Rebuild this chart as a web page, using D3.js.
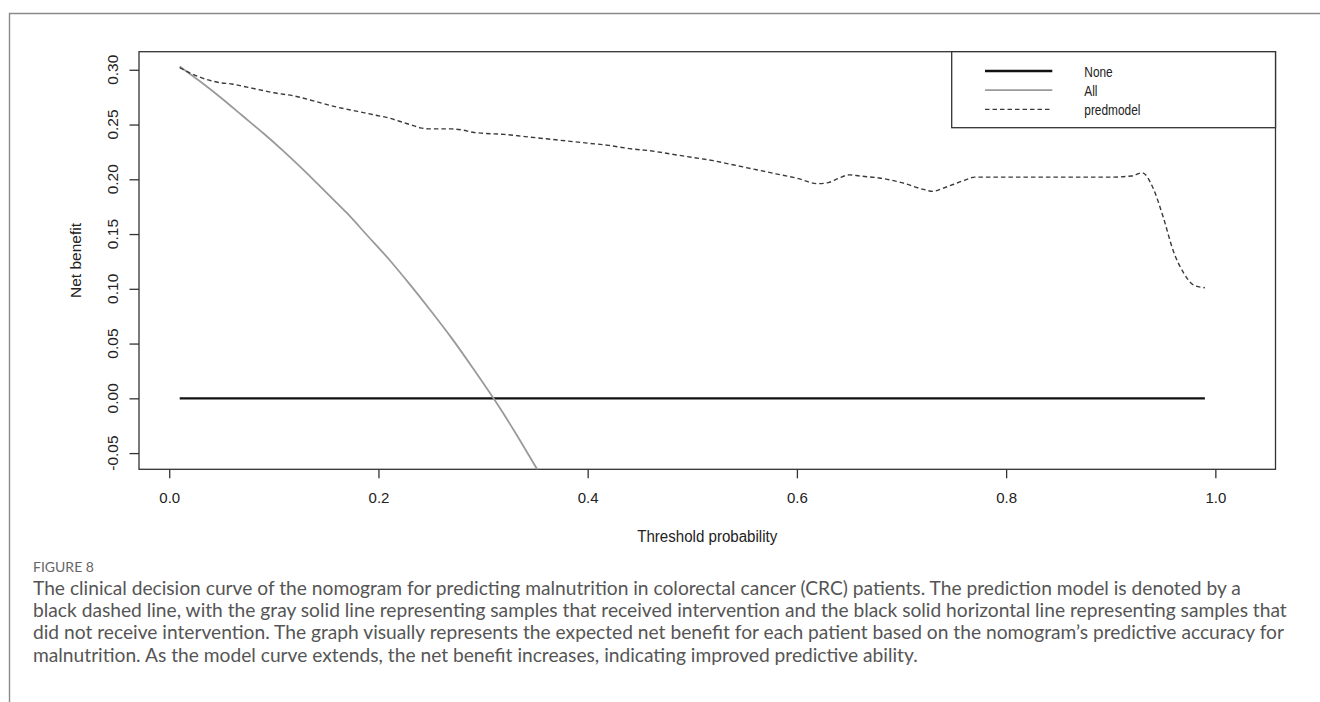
<!DOCTYPE html>
<html>
<head>
<meta charset="utf-8">
<script src="https://cdn.jsdelivr.net/npm/d3@7"></script>
<style>
  html, body { margin: 0; padding: 0; background: #fff; }
  svg { display: block; }
</style>
</head>
<body>
<svg id="chart" width="1320" height="702"></svg>
<script>
"use strict";

// values
const modelThresholds = [0.01, 0.02, 0.03, 0.04, 0.05, 0.06, 0.07, 0.08, 0.09, 0.10, 0.12, 0.14, 0.16, 0.18, 0.20,
  0.21, 0.22, 0.23, 0.24, 0.25, 0.27, 0.28, 0.29, 0.30, 0.32, 0.34, 0.36, 0.38, 0.40, 0.42, 0.44, 0.46, 0.48,
  0.50, 0.52, 0.54, 0.56, 0.58, 0.60, 0.62, 0.63, 0.64, 0.65, 0.66, 0.68, 0.70, 0.72, 0.73, 0.74, 0.76, 0.77,
  0.80, 0.85, 0.90, 0.92, 0.93, 0.94, 0.95, 0.96, 0.97, 0.98, 0.99];
const modelBenefit = [0.302, 0.297, 0.293, 0.290, 0.288, 0.287, 0.285, 0.283, 0.281, 0.279, 0.276, 0.271, 0.266, 0.262, 0.258,
  0.256, 0.253, 0.250, 0.247, 0.246, 0.246, 0.245, 0.243, 0.242, 0.241, 0.239, 0.237, 0.235, 0.233, 0.231, 0.228, 0.226, 0.223,
  0.220, 0.217, 0.213, 0.209, 0.205, 0.201, 0.196, 0.197, 0.201, 0.204, 0.203, 0.201, 0.197, 0.191, 0.189, 0.192, 0.199, 0.202,
  0.202, 0.202, 0.202, 0.203, 0.206, 0.193, 0.166, 0.134, 0.114, 0.103, 0.101];

const allThresholds = [0.01, 0.03, 0.05, 0.07, 0.09, 0.11, 0.13, 0.15, 0.17, 0.19, 0.21, 0.23, 0.25, 0.27, 0.29, 0.31, 0.33, 0.35, 0.36];
const allBenefit = [0.303, 0.289, 0.274, 0.258, 0.242, 0.225, 0.207, 0.188, 0.169, 0.148, 0.127, 0.104, 0.080, 0.055, 0.028, 0.000, -0.030, -0.062, -0.078];

const noneThresholds = [0.01, 0.99];
const noneBenefit = [0, 0];

const xTicks = [0, 0.2, 0.4, 0.6, 0.8, 1.0];
const yTicks = [-0.05, 0, 0.05, 0.10, 0.15, 0.20, 0.25, 0.30];
const legendLabels = ["None", "All", "predmodel"];

const captionTitle = "FIGURE 8";
const captionLines = [
  "The clinical decision curve of the nomogram for predicting malnutrition in colorectal cancer (CRC) patients. The prediction model is denoted by a",
  "black dashed line, with the gray solid line representing samples that received intervention and the black solid horizontal line representing samples that",
  "did not receive intervention. The graph visually represents the expected net benefit for each patient based on the nomogram\u2019s predictive accuracy for",
  "malnutrition. As the model curve extends, the net benefit increases, indicating improved predictive ability."
];

let svg = d3.select("#chart"),
  plot = {left: 139, right: 1275.5, top: 51.7, bottom: 469.3},
  x = d3.scaleLinear().domain([-0.0289, 1.0575]).range([plot.left, plot.right]),
  y = d3.scaleLinear().domain([-0.0648, 0.3165]).range([plot.bottom, plot.top]),
  rFont = "Liberation Sans, Arial, sans-serif",
  fmt = d3.formatLocale({decimal: ".", thousands: ",", grouping: [3], currency: ["", ""], minus: "-"})
;

// outer figure frame (left + top rule)
svg.append("path")
  .attr("d", "M9.5,702V13.5H1320")
  .attr("fill", "none")
  .attr("stroke", "#8a8a8a")
  .attr("stroke-width", 1.4);

svg.append("clipPath").attr("id", "clip")
  .append("rect")
  .attr("x", plot.left).attr("y", plot.top)
  .attr("width", plot.right - plot.left).attr("height", plot.bottom - plot.top);

// axes
let xAxis = svg.append("g")
  .attr("transform", "translate(0," + plot.bottom + ")")
  .call(d3.axisBottom(x).tickValues(xTicks).tickSize(9).tickPadding(14).tickFormat(fmt.format(".1f")));
xAxis.select(".domain").remove();
xAxis.selectAll("line").attr("stroke", "#333").attr("stroke-width", 1.3);
xAxis.selectAll("text").attr("font-family", rFont).attr("font-size", 15).attr("fill", "#222");

let yAxis = svg.append("g")
  .attr("transform", "translate(" + plot.left + ",0)")
  .call(d3.axisLeft(y).tickValues(yTicks).tickSize(9.5).tickFormat(""));
yAxis.select(".domain").remove();
yAxis.selectAll("line").attr("stroke", "#333").attr("stroke-width", 1.3);

svg.append("g").selectAll("text")
  .data(yTicks)
  .enter().append("text")
    .attr("transform", function(d) { return "translate(117.5," + y(d) + ") rotate(-90)"; })
    .attr("text-anchor", "middle")
    .attr("font-family", rFont)
    .attr("font-size", 15.5)
    .attr("fill", "#222")
    .text(fmt.format(".2f"));

// plot box
svg.append("rect")
  .attr("x", plot.left).attr("y", plot.top)
  .attr("width", plot.right - plot.left).attr("height", plot.bottom - plot.top)
  .attr("fill", "none")
  .attr("stroke", "#333")
  .attr("stroke-width", 1.3);

// axis titles
svg.append("text")
  .attr("x", (plot.left + plot.right) / 2)
  .attr("y", 541.5)
  .attr("text-anchor", "middle")
  .attr("font-family", rFont)
  .attr("font-size", 16)
  .attr("fill", "#222")
  .attr("textLength", 140)
  .attr("lengthAdjust", "spacingAndGlyphs")
  .text("Threshold probability");

svg.append("text")
  .attr("transform", "translate(81," + (plot.top + plot.bottom) / 2 + ") rotate(-90)")
  .attr("text-anchor", "middle")
  .attr("font-family", rFont)
  .attr("font-size", 15.5)
  .attr("fill", "#222")
  .text("Net benefit");

// curves
let line = d3.line()
  .x(function(d) { return x(d[0]); })
  .y(function(d) { return y(d[1]); });

let curves = svg.append("g").attr("clip-path", "url(#clip)");

curves.append("path")
  .datum(d3.zip(noneThresholds, noneBenefit))
  .attr("d", line)
  .attr("fill", "none")
  .attr("stroke", "#111")
  .attr("stroke-width", 2.4);

curves.append("path")
  .datum(d3.zip(allThresholds, allBenefit))
  .attr("d", line.curve(d3.curveMonotoneX))
  .attr("fill", "none")
  .attr("stroke", "#9a9a9a")
  .attr("stroke-width", 1.8);

curves.append("path")
  .datum(d3.zip(modelThresholds, modelBenefit))
  .attr("d", line.curve(d3.curveMonotoneX))
  .attr("fill", "none")
  .attr("stroke", "#3a3a3a")
  .attr("stroke-width", 1.4)
  .attr("stroke-dasharray", "4.5,3");

// legend
let legend = svg.append("g");
legend.append("rect")
  .attr("x", 951.7).attr("y", plot.top)
  .attr("width", plot.right - 951.7).attr("height", 76)
  .attr("fill", "#fff")
  .attr("stroke", "#333")
  .attr("stroke-width", 1.3);

let legendStyle = [
  {stroke: "#111", width: 2.4, dash: null},
  {stroke: "#9a9a9a", width: 1.8, dash: null},
  {stroke: "#3a3a3a", width: 1.4, dash: "4.5,3"}
];

let items = legend.selectAll(".item")
  .data(legendLabels)
  .enter().append("g")
    .attr("class", "item")
    .attr("transform", function(d, i) { return "translate(0," + (71 + i * 19.2) + ")"; });

items.append("line")
  .attr("x1", 985).attr("x2", 1052.3)
  .attr("stroke", function(d, i) { return legendStyle[i].stroke; })
  .attr("stroke-width", function(d, i) { return legendStyle[i].width; })
  .attr("stroke-dasharray", function(d, i) { return legendStyle[i].dash; });

items.append("text")
  .attr("x", 1084.3)
  .attr("y", 5.8)
  .attr("font-family", rFont)
  .attr("font-size", 14.5)
  .attr("fill", "#222")
  .text(function(d) { return d; })
  .each(function() {
    let w = this.getComputedTextLength();
    d3.select(this).attr("textLength", w * 0.82).attr("lengthAdjust", "spacingAndGlyphs");
  });

// caption
svg.append("text")
  .attr("x", 33)
  .attr("y", 572)
  .attr("font-family", "Lato, 'Open Sans', sans-serif")
  .attr("font-size", 14)
  .attr("fill", "#666")
  .text(captionTitle);

let caption = svg.append("g")
  .attr("font-family", "Lato, 'Open Sans', sans-serif")
  .attr("fill", "#555");

let capText = caption.selectAll("text")
  .data(captionLines)
  .enter().append("text")
    .attr("x", 33)
    .attr("y", function(d, i) { return 595 + i * 22.2; })
    .attr("font-size", 18)
    .text(function(d) { return d; });

// fit the caption size to the measured width of the second line
let w2 = capText.filter(function(d, i) { return i === 1; }).node().getComputedTextLength();
capText.attr("font-size", 18 * 1255 / w2);
</script>
</body>
</html>
